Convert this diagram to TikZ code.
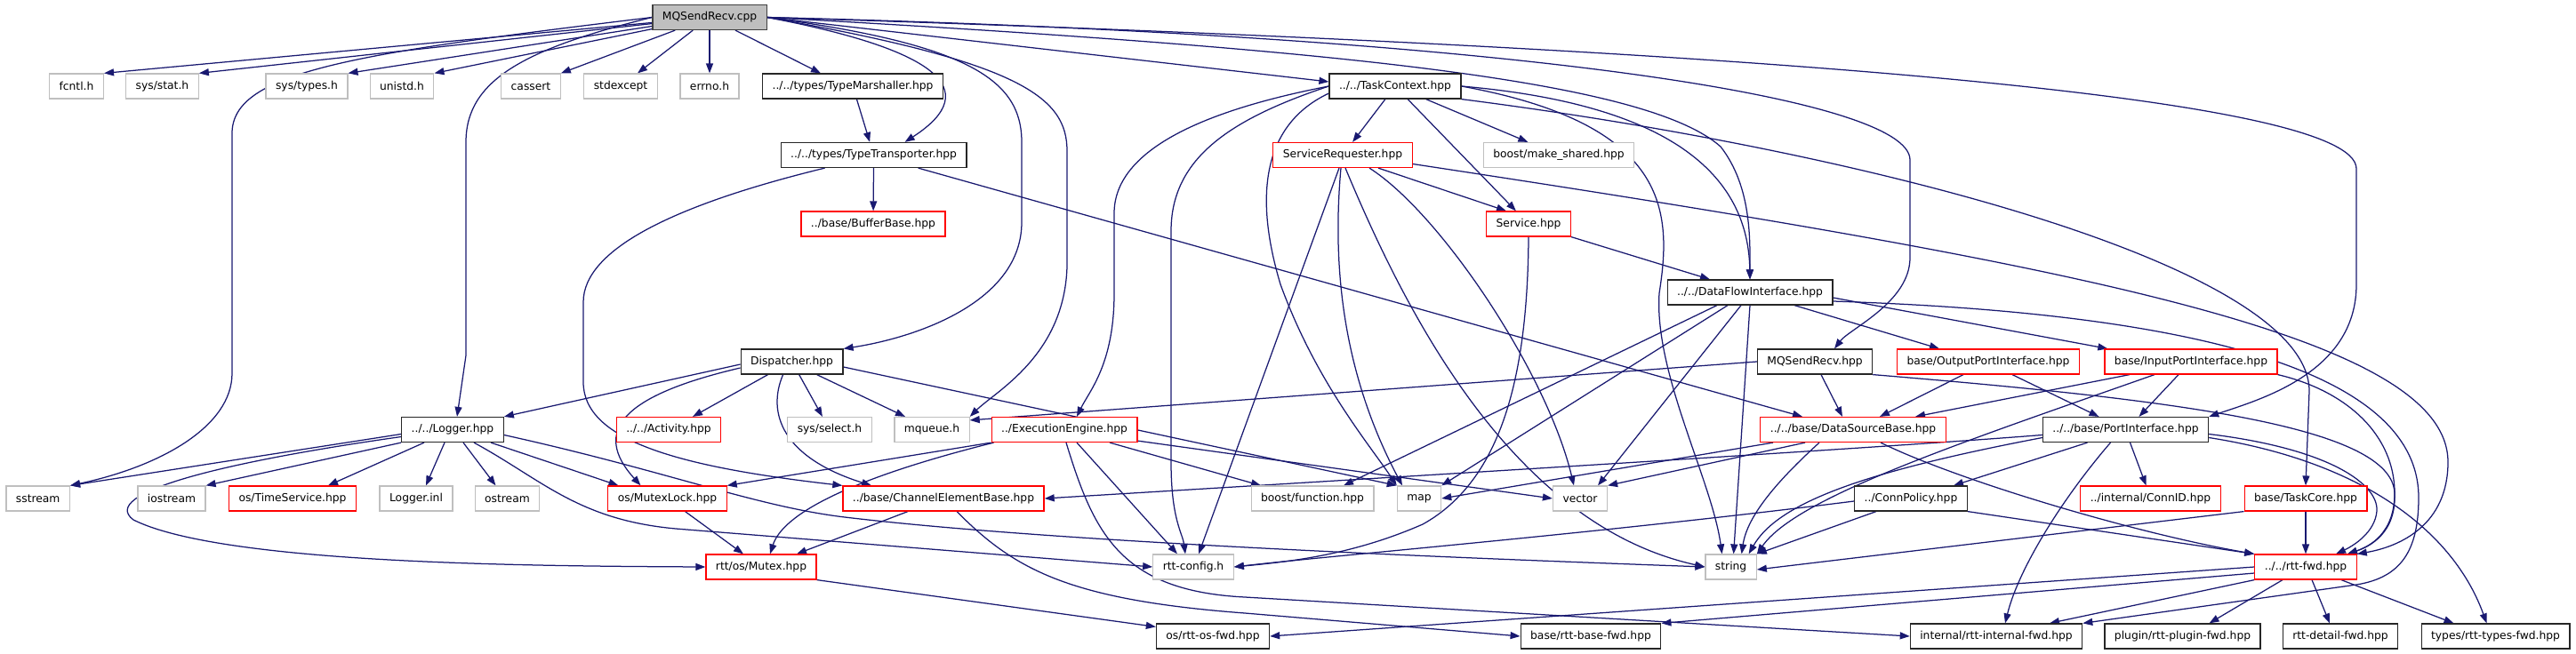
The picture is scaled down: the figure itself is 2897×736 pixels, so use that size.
\documentclass[tikz,border=0pt]{standalone}
\usepackage{fontspec}
\setmainfont{DejaVu Sans}
\usetikzlibrary{arrows.meta}
\usetikzlibrary{backgrounds}
\definecolor{edgeblue}{HTML}{191970}
\definecolor{boxgrey}{HTML}{BFBFBF}
\definecolor{boxred}{HTML}{FF0000}

\begin{document}
\begin{tikzpicture}[x=1pt, y=-1pt,
  box/.style={draw, rectangle, fill=white, line width=1.2pt, minimum height=28pt,
    inner xsep=11pt, inner ysep=0pt, font=\fontsize{12.3}{14}\selectfont},
  sysbox/.style={box, draw=boxgrey},
  docbox/.style={box, draw=black!85},
  redbox/.style={box, draw=boxred},
  rootbox/.style={box, draw=black!75, fill=boxgrey},
  dep/.style={draw=edgeblue, line width=1.25pt, -{Triangle[length=11pt, width=8pt]}}]
  \def\ya{19.5}  % <-- root
  \def\yb{97}
  \def\yc{174.5}
  \def\yd{252}
  \def\ye{329}
  \def\yf{407}
  \def\yg{483.5}
  \def\yh{561}
  \def\yi{638}
  \def\yj{716}

  \useasboundingbox (0,0) rectangle (2897,736);

  % file radice
  \node[rootbox] (cpp) at (798,\ya) {MQSendRecv.cpp};

  % prima riga
  \node[sysbox] (fcntl) at (86,\yb) {fcntl.h};
  \node[sysbox] (sysstat) at (182.5,\yb) {sys/stat.h};
  \node[sysbox] (systypes) at (345,\yb) {sys/types.h};
  \node[sysbox] (unistd) at (452,\yb) {unistd.h};
  \node[sysbox] (cassert) at (597,\yb) {cassert};
  \node[sysbox] (stdexcept) at (698,\yb) {stdexcept};
  \node[sysbox] (errno) at (798,\yb) {errno.h};
  \node[docbox] (marshaller) at (959,\yb) {../../types/TypeMarshaller.hpp};
  \node[docbox] (taskctx) at (1569,\yb) {../../TaskContext.hpp};

  % righe centrali
  \node[docbox] (transporter) at (982.6,\yc) {../../types/TypeTransporter.hpp};
  \node[redbox] (srvreq) at (1510,\yc) {ServiceRequester.hpp};
  \node[sysbox] (makeshared) at (1753,\yc) {boost/make\_shared.hpp};
  \node[redbox] (bufbase) at (982,\yd) {../base/BufferBase.hpp};
  \node[redbox] (service) at (1719,\yd) {Service.hpp};
  \node[docbox] (dataflow) at (1968,\ye) {../../DataFlowInterface.hpp};
  \node[docbox] (dispatcher) at (890.6,\yf) {Dispatcher.hpp};
  \node[docbox] (mqhpp) at (2041,\yf) {MQSendRecv.hpp};
  \node[redbox] (outport) at (2236,\yf) {base/OutputPortInterface.hpp};
  \node[redbox] (inport) at (2464,\yf) {base/InputPortInterface.hpp};

  \node[docbox] (logger) at (509,\yg) {../../Logger.hpp};
  \node[redbox] (activity) at (752,\yg) {../../Activity.hpp};
  \node[sysbox] (sysselect) at (933,\yg) {sys/select.h};
  \node[sysbox] (mqueue) at (1048,\yg) {mqueue.h};
  \node[redbox] (exeng) at (1197,\yg) {../ExecutionEngine.hpp};
  \node[redbox] (dsbase) at (2084,\yg) {../../base/DataSourceBase.hpp};
  \node[docbox] (portif) at (2390.5,\yg) {../../base/PortInterface.hpp};

  \node[sysbox] (sstream) at (42.7,\yh) {sstream};
  \node[sysbox] (iostream) at (193,\yh) {iostream};
  \node[redbox] (timesvc) at (329,\yh) {os/TimeService.hpp};
  \node[sysbox] (loggerinl) at (468,\yh) {Logger.inl};
  \node[sysbox] (ostream) at (570.5,\yh) {ostream};
  \node[redbox] (mutexlock) at (750.5,\yh) {os/MutexLock.hpp};
  \node[redbox] (chanbase) at (1061,\yh) {../base/ChannelElementBase.hpp};
  \node[sysbox] (boostfn) at (1476,\yh) {boost/function.hpp};
  \node[sysbox] (map) at (1596,\yh) {map};
  \node[sysbox] (vector) at (1777,\yh) {vector};
  \node[docbox] (connpol) at (2149,\yh) {../ConnPolicy.hpp};
  \node[redbox] (connid) at (2418.5,\yh) {../internal/ConnID.hpp};
  \node[redbox] (taskcore) at (2593,\yh) {base/TaskCore.hpp};

  \node[redbox] (mutex) at (856,\yi) {rtt/os/Mutex.hpp};
  \node[sysbox] (rttconfig) at (1342,\yi) {rtt-config.h};
  \node[sysbox] (string) at (1946.6,\yi) {string};
  \node[redbox] (rttfwd) at (2593,\yi) {../../rtt-fwd.hpp};

  % ultima riga
  \node[docbox] (osfwd) at (1364,\yj) {os/rtt-os-fwd.hpp};
  \node[docbox] (basefwd) at (1789,\yj) {base/rtt-base-fwd.hpp};
  \node[docbox] (internalfwd) at (2245,\yj) {internal/rtt-internal-fwd.hpp};
  \node[docbox] (pluginfwd) at (2454.5,\yj) {plugin/rtt-plugin-fwd.hpp};
  \node[docbox] (detailfwd) at (2632,\yj) {rtt-detail-fwd.hpp};
  \node[docbox] (typesfwd) at (2806.5,\yj) {types/rtt-types-fwd.hpp};

  \begin{scope}[on background layer]
  % include del file radice
  \draw[dep] (cpp) -- (fcntl.north east);
  \draw[dep] (cpp) -- (sysstat.north east);
  \draw[dep] (cpp) -- (systypes.north east);
  \draw[dep] (cpp) -- (unistd.north east);
  \draw[dep] (cpp) -- (cassert.north east);
  \draw[dep] (cpp) -- ([xshift=19pt]stdexcept.north);
  \draw[dep] (cpp) -- (errno);
  \draw[dep] (cpp) -- ([xshift=-36pt]marshaller.north);
  \draw[dep] (cpp.west) .. controls (400,60) and (261,80) .. (261,150) -- (261,420) .. controls (261,480) and (180,525) .. (sstream.north east);
  \draw[dep] (cpp.west) .. controls (590,55) and (524,90) .. (524,160) -- (524,400) -- ([xshift=5pt]logger.north);
  \draw[dep] (cpp.east) .. controls (1050,55) and (1110,100) .. ([xshift=35pt]transporter.north);
  \draw[dep] (cpp.east) .. controls (1090,50) and (1149,90) .. (1149,160) -- (1149,250) .. controls (1149,340) and (1030,380) .. (dispatcher.north east);
  \draw[dep] (cpp.east) .. controls (1150,70) and (1200,110) .. (1200,170) -- (1200,300) .. controls (1197,400) and (1120,440) .. (mqueue.north east);
  \draw[dep] (cpp.east) -- ([yshift=5pt]taskctx.west);
  \draw[dep] (cpp.east) .. controls (1500,55) and (1850,90) .. (1935,165) .. controls (1970,210) and (1968,270) .. (dataflow.north);
  \draw[dep] (cpp.east) .. controls (1700,40) and (2148,110) .. (2148,180) -- (2148,290) .. controls (2148,340) and (2080,370) .. ([xshift=22pt]mqhpp.north);
  \draw[dep] (cpp.east) .. controls (2000,55) and (2650,110) .. (2650,190) -- (2650,320) .. controls (2650,420) and (2540,450) .. (portif.north east);

  % tipi
  \draw[dep] (marshaller) -- (transporter);
  \draw[dep] (transporter) -- (bufbase);
  \draw[dep] ([xshift=-55pt]transporter.south) .. controls (760,230) and (656,280) .. (656,340) -- (656,430) .. controls (656,495) and (760,525) .. (chanbase.north west);
  \draw[dep] ([xshift=50pt]transporter.south) -- ([xshift=-57pt]dsbase.north);

  % task context
  \draw[dep] (taskctx) -- (srvreq);
  \draw[dep] (taskctx) -- (service);
  \draw[dep] (taskctx) -- (makeshared);
  \draw[dep] (taskctx.east) .. controls (1850,115) and (1966,180) .. (dataflow.north);
  \draw[dep] (taskctx.east) .. controls (1880,140) and (1880,240) .. (1866,330) .. controls (1860,420) and (1925,540) .. ([xshift=-10pt]string.north);
  \draw[dep] (taskctx.south east) .. controls (2100,170) and (2597,300) .. (2597,440) -- (taskcore.north);
  \draw[dep] (taskctx.west) .. controls (1350,125) and (1253,170) .. (1253,240) -- (1253,330) .. controls (1253,410) and (1225,440) .. ([xshift=14pt]exeng.north);
  \draw[dep] (taskctx.west) .. controls (1380,135) and (1317,180) .. (1317,260) -- (1317,520) .. controls (1317,585) and (1330,600) .. ([xshift=-9pt]rttconfig.north);
  \draw[dep] ([yshift=-8pt]taskctx.west) .. controls (1420,140) and (1410,220) .. (1440,320) .. controls (1480,430) and (1540,500) .. (map.north west);

  % service requester
  \draw[dep] ([xshift=40pt]srvreq.south) -- ([xshift=-25pt]service.north);
  \draw[dep] ([xshift=-4pt]srvreq.south) -- ([xshift=6pt]rttconfig.north);
  \draw[dep] ([xshift=-2pt]srvreq.south) .. controls (1498,300) and (1510,420) .. ([xshift=-19pt]map.north);
  \draw[dep] ([xshift=3pt]srvreq.south) .. controls (1580,350) and (1700,590) .. (string.west);
  \draw[dep] ([xshift=30pt]srvreq.south) .. controls (1620,240) and (1740,420) .. ([xshift=-7pt]vector.north);
  \draw[dep] ([yshift=-10pt]srvreq.east) .. controls (2350,300) and (2753,380) .. (2753,520) .. controls (2753,590) and (2700,615) .. (rttfwd.north east);

  % service
  \draw[dep] (service.south east) -- ([xshift=-45pt]dataflow.north);
  \draw[dep] (service.south) .. controls (1718,420) and (1690,540) .. (1600,590) .. controls (1520,625) and (1450,632) .. (rttconfig.east);

  % data flow interface
  \draw[dep] ([xshift=-37pt]dataflow.south) -- ([xshift=35pt]boostfn.north);
  \draw[dep] ([xshift=-25pt]dataflow.south) -- (map.north east);
  \draw[dep] ([xshift=-10pt]dataflow.south) -- ([xshift=20pt]vector.north);
  \draw[dep] (dataflow.south) -- ([xshift=3pt]string.north);
  \draw[dep] ([xshift=50pt]dataflow.south) -- ([xshift=-55pt]outport.north);
  \draw[dep] ([yshift=-6pt]dataflow.east) -- ([xshift=4pt]inport.north west);
  \draw[dep] ([yshift=-10pt]dataflow.east) .. controls (2400,350) and (2720,400) .. (2720,560) .. controls (2720,620) and (2700,650) .. (2650,658) -- (internalfwd.north east);

  % dispatcher
  \draw[dep] ([yshift=-3pt]dispatcher.west) -- (logger.north east);
  \draw[dep] ([yshift=-7pt]dispatcher.west) .. controls (700,445) and (665,485) .. ([xshift=-30pt]mutexlock.north);
  \draw[dep] ([xshift=-27pt]dispatcher.south) -- ([xshift=27pt]activity.north);
  \draw[dep] (dispatcher) -- (sysselect);
  \draw[dep] ([xshift=28pt]dispatcher.south) -- ([xshift=-30pt]mqueue.north);
  \draw[dep] ([xshift=-10pt]dispatcher.south) .. controls (862,465) and (880,515) .. ([xshift=-81pt]chanbase.north);
  \draw[dep] ([yshift=-6pt]dispatcher.east) -- (map.north west);

  % logger
  \draw[dep] ([yshift=-5pt]logger.west) -- (sstream.north east);
  \draw[dep] ([yshift=-8pt]logger.west) .. controls (250,520) and (110,555) .. (150,585) .. controls (250,635) and (600,637) .. (mutex.west);
  \draw[dep] (logger.south west) -- (iostream.north east);
  \draw[dep] ([xshift=-32pt]logger.south) -- ([xshift=40pt]timesvc.north);
  \draw[dep] ([xshift=-9pt]logger.south) -- ([xshift=11pt]loggerinl.north);
  \draw[dep] ([xshift=12pt]logger.south) -- ([xshift=-13pt]ostream.north);
  \draw[dep] ([xshift=43pt]logger.south) -- ([xshift=-55pt]mutexlock.north);
  \draw[dep] ([xshift=24pt]logger.south) .. controls (610,540) and (650,585) .. (760,595) -- (rttconfig.west);
  \draw[dep] ([yshift=-6pt]logger.east) .. controls (750,530) and (850,570) .. (950,582) .. controls (1200,612) and (1700,630) .. (string.west);

  % execution engine
  \draw[dep] (exeng.south west) -- (mutexlock.north east);
  \draw[dep] ([xshift=3pt]exeng.south west) .. controls (950,540) and (880,580) .. ([xshift=10pt]mutex.north);
  \draw[dep] ([xshift=14pt]exeng.south) -- ([xshift=-18pt]rttconfig.north);
  \draw[dep] ([xshift=51pt]exeng.south) -- ([xshift=-58pt]boostfn.north);
  \draw[dep] ([yshift=2pt]exeng.south east) -- (vector.west);
  \draw[dep] ([xshift=2pt]exeng.south) .. controls (1230,600) and (1260,665) .. (1400,672) -- (internalfwd.west);

  % channel element e mutex
  \draw[dep] ([xshift=-40pt]chanbase.south) -- ([xshift=40pt]mutex.north);
  \draw[dep] ([xshift=15pt]chanbase.south) .. controls (1140,640) and (1200,675) .. (1400,690) -- (basefwd.west);
  \draw[dep] ([xshift=20pt]mutexlock.south) -- ([xshift=-20pt]mutex.north);
  \draw[dep] (mutex.south east) -- ([yshift=-4pt]osfwd.north west);

  % MQSendRecv.hpp
  \draw[dep] (mqhpp.west) -- ([yshift=-4pt]mqueue.north east);
  \draw[dep] ([xshift=7pt]mqhpp.south) -- ([xshift=-12pt]dsbase.north);
  \draw[dep] (mqhpp.south east) .. controls (2450,450) and (2690,480) .. (2693,555) .. controls (2695,600) and (2665,615) .. ([xshift=47pt]rttfwd.north);

  % porte
  \draw[dep] ([xshift=-28pt]outport.south) -- ([xshift=30pt]dsbase.north);
  \draw[dep] ([xshift=27pt]outport.south) -- ([xshift=-30pt]portif.north);
  \draw[dep] ([xshift=-69pt]inport.south) -- ([xshift=70pt]dsbase.north);
  \draw[dep] ([xshift=-14pt]inport.south) -- ([xshift=15pt]portif.north);
  \draw[dep] ([xshift=-41pt]inport.south) .. controls (2200,500) and (2020,560) .. (string.north east);
  \draw[dep] (inport.south east) .. controls (2640,440) and (2693,490) .. (2693,555) .. controls (2693,600) and (2665,615) .. ([xshift=47pt]rttfwd.north);

  % port interface
  \draw[dep] ([yshift=-6pt]portif.west) .. controls (2100,505) and (1600,535) .. (chanbase.east);
  \draw[dep] ([yshift=-9pt]portif.west) .. controls (2100,530) and (2000,565) .. ([xshift=20pt]string.north);
  \draw[dep] ([xshift=-43pt]portif.south) -- ([xshift=48pt]connpol.north);
  \draw[dep] ([xshift=5pt]portif.south) -- ([xshift=-5pt]connid.north);
  \draw[dep] ([xshift=-17pt]portif.south) .. controls (2320,560) and (2270,640) .. ([xshift=10pt]internalfwd.north);
  \draw[dep] ([yshift=-5pt]portif.east) .. controls (2620,505) and (2675,545) .. (2673,575) .. controls (2671,600) and (2645,615) .. ([xshift=34pt]rttfwd.north);
  \draw[dep] ([yshift=-9pt]portif.east) .. controls (2660,520) and (2760,600) .. ([xshift=-10pt]typesfwd.north);

  % data source base
  \draw[dep] ([xshift=-90pt]dsbase.south) -- (map.east);
  \draw[dep] ([xshift=-54pt]dsbase.south) -- (vector.north east);
  \draw[dep] ([xshift=-38pt]dsbase.south) .. controls (2000,540) and (1965,580) .. ([xshift=12pt]string.north);
  \draw[dep] ([xshift=31pt]dsbase.south) .. controls (2200,540) and (2400,600) .. (rttfwd.north west);

  % conn policy e task core
  \draw[dep] ([yshift=-3pt]connpol.west) .. controls (1800,600) and (1500,625) .. (rttconfig.east);
  \draw[dep] ([xshift=-39pt]connpol.south) -- (string.north east);
  \draw[dep] (connpol.south east) -- (rttfwd.north west);
  \draw[dep] (taskcore) -- (rttfwd);
  \draw[dep] (taskcore.south west) -- ([yshift=-3pt]string.east);

  % rtt-fwd
  \draw[dep] (rttfwd.west) -- (osfwd.east);
  \draw[dep] ([yshift=-7pt]rttfwd.west) -- (basefwd.north east);
  \draw[dep] (rttfwd.south west) -- ([xshift=60pt]internalfwd.north);
  \draw[dep] ([xshift=-26pt]rttfwd.south) -- ([xshift=30pt]pluginfwd.north);
  \draw[dep] ([xshift=7pt]rttfwd.south) -- ([xshift=-12pt]detailfwd.north);
  \draw[dep] ([xshift=40pt]rttfwd.south) -- ([xshift=-47pt]typesfwd.north);
  \end{scope}
\end{tikzpicture}
\end{document}
